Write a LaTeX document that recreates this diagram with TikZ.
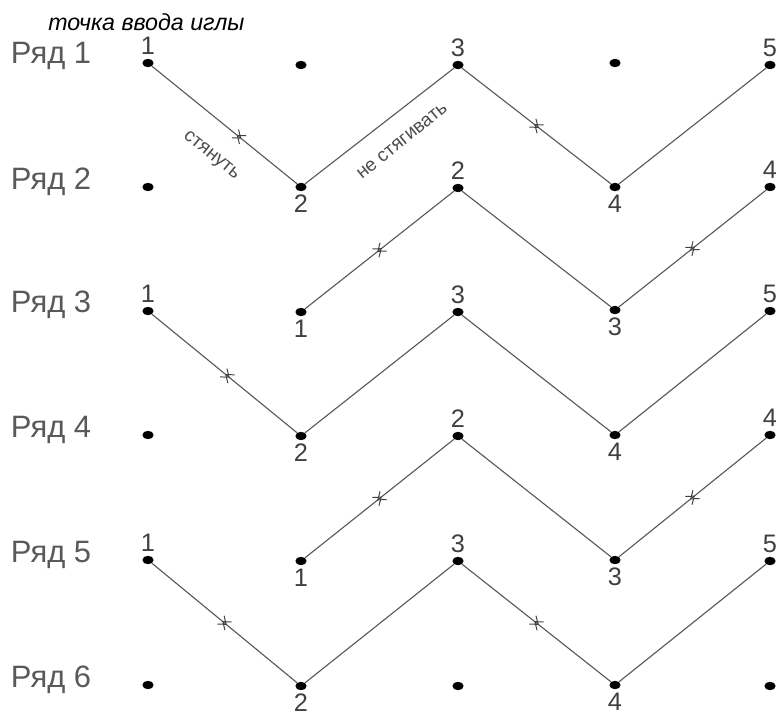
\documentclass[tikz,border=0pt]{standalone}
\usepackage{fontspec}
\setmainfont{Liberation Sans}
\usepackage{tikz}
\usetikzlibrary{decorations.markings,shapes.geometric}

\begin{document}
\begin{tikzpicture}[
            x=0.025cm, y=-0.025cm,
            dot/.style={ellipse, fill=black, inner sep=0pt, minimum width=8pt, minimum height=6pt},
            row label/.style={anchor=west, font=\fontsize{22}{22}\selectfont, text=black!65},
            every label/.style={font=\fontsize{18}{18}\selectfont, text=black!75, inner sep=0.5pt, label distance=2pt},
            thread/.style={draw=black!65, line width=0.8pt},
            stitch/.style={postaction={decorate}, decoration={markings, mark=at position #1 with {
                \draw[black!75, line width=0.7pt] (-3.5pt,3.8pt) -- (1.5pt,0pt) -- (-3.5pt,-3.8pt);
                \draw[black!75, line width=0.7pt] (3.5pt,3.8pt) -- (-1.5pt,0pt) -- (3.5pt,-3.8pt);}}},
            note/.style={font=\fontsize{13.5}{13.5}\selectfont, text=black!70}
    ]
        \useasboundingbox (0,0) rectangle (776,717);

        % Title
        \node[font=\fontsize{16.5}{16.5}\selectfont\itshape, anchor=west, inner sep=0pt] (title) at (48,22) {точка ввода иглы};

        % Row labels
        \node[row label] (row1) at (6,56) {Ряд 1};
        \node[row label] (row2) at (6,182) {Ряд 2};
        \node[row label] (row3) at (6,305) {Ряд 3};
        \node[row label] (row4) at (6,430) {Ряд 4};
        \node[row label] (row5) at (6,555) {Ряд 5};
        \node[row label] (row6) at (6,680) {Ряд 6};

        % Row 1
        \node[dot, label={above:1}] (r1_1) at (148,63) {};
        \node[dot] (r1_2) at (301,65) {};
        \node[dot, label={above:3}] (r1_3) at (458,65) {};
        \node[dot] (r1_4) at (615,63) {};
        \node[dot, label={above:5}] (r1_5) at (770,65) {};

        % Row 2
        \node[dot] (r2_1) at (148,187) {};
        \node[dot, label={below:2}] (r2_2) at (301,187) {};
        \node[dot, label={above:2}] (r2_3) at (458,188) {};
        \node[dot, label={below:4}] (r2_4) at (615,187) {};
        \node[dot, label={above:4}] (r2_5) at (770,187) {};

        % Row 3
        \node[dot, label={above:1}] (r3_1) at (148,311) {};
        \node[dot, label={below:1}] (r3_2) at (301,312) {};
        \node[dot, label={above:3}] (r3_3) at (458,312) {};
        \node[dot, label={below:3}] (r3_4) at (615,310) {};
        \node[dot, label={above:5}] (r3_5) at (770,311) {};

        % Row 4
        \node[dot] (r4_1) at (148,435) {};
        \node[dot, label={below:2}] (r4_2) at (301,436) {};
        \node[dot, label={above:2}] (r4_3) at (458,436) {};
        \node[dot, label={below:4}] (r4_4) at (615,435) {};
        \node[dot, label={above:4}] (r4_5) at (770,435) {};

        % Row 5
        \node[dot, label={above:1}] (r5_1) at (148,560) {};
        \node[dot, label={below:1}] (r5_2) at (301,561) {};
        \node[dot, label={above:3}] (r5_3) at (458,561) {};
        \node[dot, label={below:3}] (r5_4) at (615,560) {};
        \node[dot, label={above:5}] (r5_5) at (770,561) {};

        % Row 6
        \node[dot] (r6_1) at (148,685) {};
        \node[dot, label={below:2}] (r6_2) at (301,686) {};
        \node[dot] (r6_3) at (458,686) {};
        \node[dot, label={below:4}] (r6_4) at (615,685) {};
        \node[dot] (r6_5) at (770,686) {};

        % Threads, rows 1-2
        \draw[thread, stitch=0.6] (r1_1) -- (r2_2);
        \draw[thread] (r2_2) -- (r1_3);
        \draw[thread, stitch=0.5] (r1_3) -- (r2_4);
        \draw[thread] (r2_4) -- (r1_5);

        % Threads, rows 2-3
        \draw[thread, stitch=0.5] (r3_2) -- (r2_3);
        \draw[thread] (r2_3) -- (r3_4);
        \draw[thread, stitch=0.5] (r3_4) -- (r2_5);

        % Threads, rows 3-4
        \draw[thread, stitch=0.52] (r3_1) -- (r4_2);
        \draw[thread] (r4_2) -- (r3_3);
        \draw[thread] (r3_3) -- (r4_4);
        \draw[thread] (r4_4) -- (r3_5);

        % Threads, rows 4-5
        \draw[thread, stitch=0.5] (r5_2) -- (r4_3);
        \draw[thread] (r4_3) -- (r5_4);
        \draw[thread, stitch=0.5] (r5_4) -- (r4_5);

        % Threads, rows 5-6
        \draw[thread, stitch=0.5] (r5_1) -- (r6_2);
        \draw[thread] (r6_2) -- (r5_3);
        \draw[thread, stitch=0.5] (r5_3) -- (r6_4);
        \draw[thread] (r6_4) -- (r5_5);

        % Notes
        \node[note, rotate=-39] (pull) at (211,156) {стянуть};
        \node[note, rotate=39] (nopull) at (402,141) {не стягивать};

    \end{tikzpicture}
\end{document}
